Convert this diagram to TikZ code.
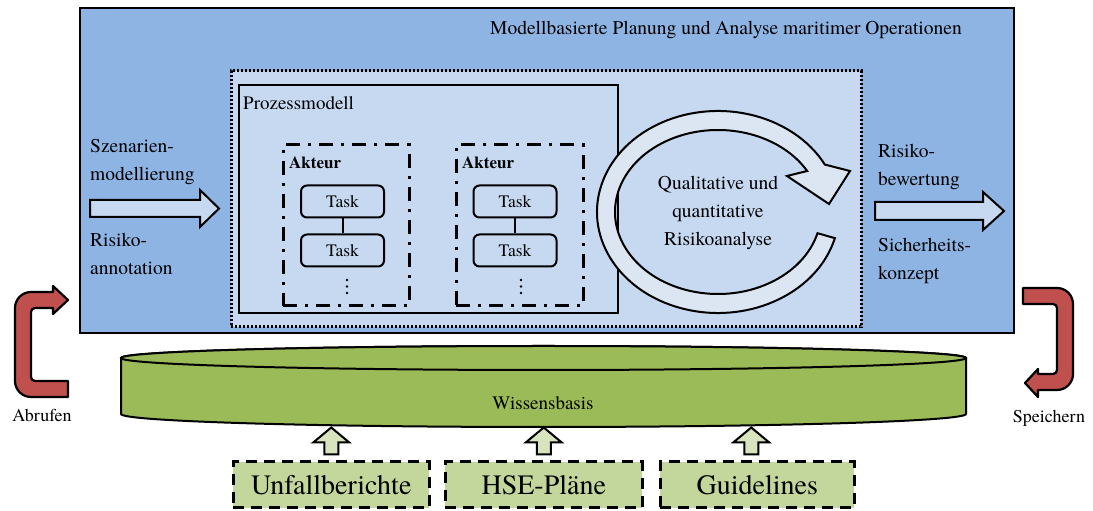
\documentclass[tikz,border=0pt]{standalone}
\usepackage{fontspec}
\setmainfont{texgyretermes}[Extension=.otf, UprightFont=*-regular, BoldFont=*-bold, ItalicFont=*-italic, BoldItalicFont=*-bolditalic]
\definecolor{outerblue}{HTML}{8EB4E3}
\definecolor{lightblue}{HTML}{C6D9F1}
\definecolor{paleblue}{HTML}{DCE6F2}
\definecolor{kbgreen}{HTML}{9BBB59}
\definecolor{srcgreen}{HTML}{C3D69B}
\definecolor{arrowgreen}{HTML}{D7E4BD}
\definecolor{redarrow}{HTML}{C0504D}
\tikzset{
  lbl/.style={inner sep=0pt, font=\fontsize{19.5}{28}\selectfont},
  frame/.style={draw, inner sep=0pt, anchor=south west},
  taskbox/.style={draw, rounded corners=6pt, line width=2pt, fill=lightblue, minimum width=83pt, minimum height=32pt, inner sep=0pt, font=\fontsize{17.5}{20}\selectfont},
  actorbox/.style={frame, line width=2.5pt, dash pattern=on 14pt off 8pt on 3pt off 8pt},
  srcbox/.style={frame, line width=2.5pt, dash pattern=on 11pt off 7pt, fill=srcgreen, minimum height=46pt, font=\fontsize{28}{32}\selectfont},
  blockarrow/.style={draw, line width=2pt, fill=lightblue, line join=miter},
  cycarrow/.style={draw, line width=2pt, fill=paleblue, line join=miter},
  redarr/.style={draw, line width=2.2pt, fill=redarrow, line join=round},
  uparr/.style={draw, line width=2pt, fill=arrowgreen, line join=miter},
  dotfill/.style={fill=black},
}
\begin{document}
\begin{tikzpicture}[x=1pt, y=1pt]
\useasboundingbox (0,0) rectangle (1093,511);

% outer frame
\node[frame, line width=2pt, fill=outerblue, minimum width=934pt, minimum height=325pt] (outer) at (79,177) {};
\node[lbl, anchor=east] (title) at (962,481) {Modellbasierte Planung und Analyse maritimer Operationen};

% dotted region
\node[frame, line width=2.5pt, fill=lightblue, dash pattern=on 2.2pt off 1.8pt, minimum width=630pt, minimum height=256pt] (analysis) at (230,183) {};

% process model
\node[frame, line width=2pt, fill=lightblue, minimum width=379pt, minimum height=228pt] (prozess) at (238,197) {};
\node[lbl, anchor=west, font=\fontsize{19}{24}\selectfont] (prozesslbl) at (243,408) {Prozessmodell};

% actors
\node[actorbox, minimum width=126pt, minimum height=161pt] (akt1) at (282,204) {};
\node[actorbox, minimum width=127pt, minimum height=161pt] (akt2) at (455,204) {};
\node[inner sep=0pt, anchor=west, font=\bfseries\fontsize{17}{20}\selectfont] (akt1lbl) at (289,348) {Akteur};
\node[inner sep=0pt, anchor=west, font=\bfseries\fontsize{17}{20}\selectfont] (akt2lbl) at (462,348) {Akteur};

\node[taskbox] (t11) at (342.5,309.5) {Task};
\node[taskbox] (t12) at (342.5,260.5) {Task};
\node[taskbox] (t21) at (515,309.5) {Task};
\node[taskbox] (t22) at (515,260.5) {Task};
\draw[line width=2pt] (t11.south) -- (t12.north);
\draw[line width=2pt] (t21.south) -- (t22.north);
\coordinate (dots1) at (347,224.5);
\coordinate (dots2) at (521,224.5);
\foreach \d in {dots1,dots2}{
  \fill[dotfill] ([yshift=6.5pt]\d) circle (1.3pt);
  \fill[dotfill] (\d) circle (1.3pt);
  \fill[dotfill] ([yshift=-6.5pt]\d) circle (1.3pt);
}

% cyclic arrow
\draw[cycarrow] (718,299) ++(-15:121 and 101)
  arc[start angle=-15, end angle=-332, x radius=121, y radius=101]
  -- (850,340) -- (829,307) -- (787,335)
  -- ([shift={(718,299)}]30:103 and 82)
  arc[start angle=-330, end angle=-15, x radius=103, y radius=82]
  -- cycle;
\node[lbl, align=center] (cyctext) at (718,298) {Qualitative und\\quantitative\\Risikoanalyse};

% left input arrow and labels
\draw[blockarrow] (90,294) -- (200,294) -- (200,284) -- (219,302.5) -- (200,321) -- (200,311) -- (90,311) -- cycle;
\node[lbl, anchor=west, align=left] (szen) at (90,349) {Szenarien-\\modellierung};
\node[lbl, anchor=west, align=left] (annot) at (90,257) {Risiko-\\annotation};

% right output arrow and labels
\draw[blockarrow] (875,291) -- (983,291) -- (983,281) -- (1004,300) -- (983,319) -- (983,309) -- (875,309) -- cycle;
\node[lbl, anchor=west, align=left] (bew) at (878,344) {Risiko-\\bewertung};
\node[lbl, anchor=west, align=left] (konz) at (878,250.5) {Sicherheits-\\konzept};

% knowledge base cylinder
\draw[line width=2pt, fill=kbgreen] (121,153) -- (121,97)
  arc[start angle=180, end angle=360, x radius=422.5, y radius=13]
  -- (966,153)
  arc[start angle=0, end angle=180, x radius=422.5, y radius=12] -- cycle;
\draw[line width=2pt, fill=kbgreen] (543.5,153) ellipse[x radius=422.5, y radius=12];
\node[lbl, font=\fontsize{19}{24}\selectfont] (kb) at (543,108) {Wissensbasis};

% red arrows
\draw[redarr] (68,114) -- (31,114) arc[start angle=270, end angle=180, radius=16]
  -- (15,203) arc[start angle=180, end angle=90, radius=16]
  -- (53,219) -- (53,225) -- (68,211) -- (53,197) -- (53,203)
  -- (35,203) arc[start angle=90, end angle=180, radius=4]
  -- (31,134) arc[start angle=180, end angle=270, radius=4]
  -- (68,130) -- cycle;
\node[lbl, font=\fontsize{18}{22}\selectfont] (abrufen) at (42,96) {Abrufen};

\draw[redarr] (1023,223) -- (1057,223) arc[start angle=90, end angle=0, radius=16]
  -- (1073,137) arc[start angle=0, end angle=-90, radius=16]
  -- (1038,121) -- (1038,114) -- (1025,128) -- (1038,142) -- (1038,137)
  -- (1053,137) arc[start angle=-90, end angle=0, radius=4]
  -- (1057,203) arc[start angle=0, end angle=90, radius=4]
  -- (1023,207) -- cycle;
\node[lbl, font=\fontsize{18}{22}\selectfont] (speichern) at (1049,93) {Speichern};

% sources
\node[srcbox, minimum width=196pt] (src1) at (232,2) {Unfallberichte};
\node[srcbox, minimum width=197pt] (src2) at (444,2) {HSE-Pläne};
\node[srcbox, minimum width=194pt] (src3) at (659,2) {Guidelines};

\draw[uparr] ([xshift=-7pt, yshift=6pt]src1.north) -- ++(0,12) -- ++(-11,0) -- ++(18,15) -- ++(18,-15) -- ++(-11,0) -- ++(0,-12) -- cycle;
\draw[uparr] ([xshift=-7pt, yshift=6pt]src2.north) -- ++(0,12) -- ++(-11,0) -- ++(18,15) -- ++(18,-15) -- ++(-11,0) -- ++(0,-12) -- cycle;
\draw[uparr] ([xshift=-13pt, yshift=6pt]src3.north) -- ++(0,12) -- ++(-11,0) -- ++(18,15) -- ++(18,-15) -- ++(-11,0) -- ++(0,-12) -- cycle;
\end{tikzpicture}
\end{document}
